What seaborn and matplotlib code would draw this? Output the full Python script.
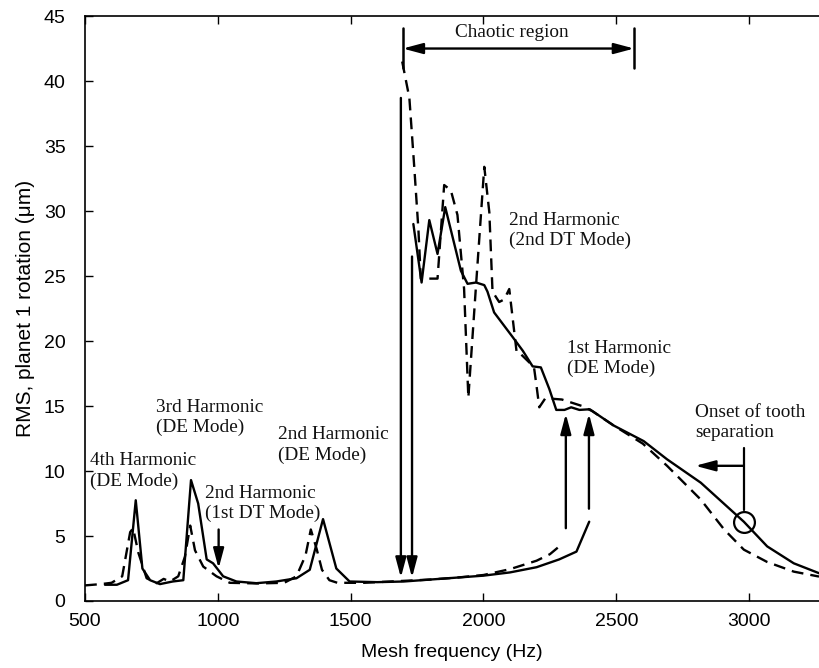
import matplotlib
matplotlib.use("Agg")
import matplotlib.pyplot as plt
import seaborn as sns
import numpy as np

# ---- data ----
freq_up_solid = [575, 620, 662, 691, 716, 745, 782, 830, 870, 899, 926, 958, 982, 1020, 1070,
                 1145, 1220, 1296, 1346, 1396, 1446, 1496, 1600, 1700, 1800, 1900, 2000, 2100,
                 2200, 2285, 2350, 2398]
rms_up_solid = [1.25, 1.25, 1.6, 7.75, 2.5, 1.6, 1.3, 1.5, 1.6, 9.3, 7.5, 3.2, 2.9, 1.9, 1.5,
                1.37, 1.5, 1.75, 2.4, 6.3, 2.5, 1.5, 1.45, 1.5, 1.65, 1.8, 1.95, 2.2,
                2.6, 3.2, 3.8, 6.1]

freq_up_dash = [500, 560, 600, 640, 670, 681, 701, 732, 770, 796, 820, 851, 876, 896, 914, 945,
                995, 1045, 1150, 1250, 1296, 1330, 1350, 1372, 1392, 1420, 1450, 1550, 1650,
                1700, 1800, 1900, 2000, 2100, 2200, 2250, 2300]
rms_up_dash = [1.2, 1.3, 1.4, 1.9, 5.3, 5.6, 3.7, 1.75, 1.37, 1.7, 1.5, 1.9, 3.4, 5.8, 3.9, 2.65,
               1.9, 1.4, 1.35, 1.4, 1.9, 3.5, 5.5, 4.0, 2.4, 1.6, 1.4, 1.4, 1.5,
               1.55, 1.65, 1.8, 2.0, 2.45, 3.1, 3.6, 4.45]

freq_dn_solid = [1736, 1767, 1796, 1827, 1856, 1915, 1940, 1972, 2003, 2015, 2040, 2110, 2148,
                 2185, 2216, 2248, 2274, 2305, 2330, 2361, 2400, 2490, 2603, 2691, 2818, 2980,
                 3068, 3168, 3263]
rms_dn_solid = [29.0, 24.5, 29.3, 26.7, 30.3, 25.4, 24.4, 24.5, 24.3, 23.8, 22.2, 20.3, 19.25,
                18.05, 17.97, 16.3, 14.7, 14.7, 14.9, 14.7, 14.75, 13.5, 12.3, 10.9, 9.1, 6.1,
                4.2, 2.9, 2.14]

freq_dn_dash = [1694, 1721, 1739, 1755, 1764, 1827, 1852, 1877, 1902, 1927, 1943, 1972, 2003,
                2022, 2034, 2059, 2078, 2097, 2125, 2140, 2190, 2200, 2210, 2233, 2295, 2371,
                2410, 2490, 2600, 2691, 2818, 2906, 2980, 3068, 3168, 3263]
rms_dn_dash = [41.5, 38.7, 33.5, 28.6, 24.8, 24.8, 32.0, 31.6, 29.7, 24.0, 15.65, 24.3, 33.4,
               29.9, 23.8, 23.0, 23.2, 24.0, 19.1, 19.0, 18.0, 16.5, 14.9, 15.6, 15.5, 15.0,
               14.6, 13.5, 12.1, 10.4, 7.8, 5.5, 3.95, 3.0, 2.26, 1.88]

x_ticks = [500, 1000, 1500, 2000, 2500, 3000]
y_ticks = [0, 5, 10, 15, 20, 25, 30, 35, 40, 45]

# ---- style ----
sns.set_theme(style="ticks")
plt.rcParams['font.family'] = ['Liberation Sans', 'DejaVu Sans']

fig = plt.figure(figsize=(8.19, 6.68), dpi=100)
ax = fig.add_axes([0.1038, 0.1003, 0.8962, 0.8757])

lw = 1.7
dash = (5, 3)
sns.lineplot(x=freq_up_solid, y=rms_up_solid, ax=ax, color='black', lw=lw, sort=False,
             estimator=None)
sns.lineplot(x=freq_dn_solid, y=rms_dn_solid, ax=ax, color='black', lw=lw, sort=False,
             estimator=None)
sns.lineplot(x=freq_up_dash, y=rms_up_dash, ax=ax, color='black', lw=lw, sort=False,
             estimator=None)
ax.lines[-1].set_dashes(dash)
sns.lineplot(x=freq_dn_dash, y=rms_dn_dash, ax=ax, color='black', lw=lw, sort=False,
             estimator=None)
ax.lines[-1].set_dashes(dash)

ax.set_xlim(500, 3263)
ax.set_ylim(0, 45)
ax.set_xticks(x_ticks)
ax.set_yticks(y_ticks)
ax.tick_params(axis='both', direction='in', length=6, width=1, labelsize=14, colors='black')
ax.tick_params(axis='x', top=True, pad=9)
ax.tick_params(axis='y', pad=14)
for s in ['left', 'bottom', 'top']:
    ax.spines[s].set_color('black')
    ax.spines[s].set_linewidth(1.2)
ax.spines['right'].set_visible(False)

ax.set_xlabel('Mesh frequency (Hz)', fontsize=14, color='black', labelpad=10)
ax.set_ylabel('RMS, planet 1 rotation (μm)', fontsize=15, color='black', labelpad=6)

# ---- annotations ----
serif = dict(family=['Liberation Serif', 'DejaVu Serif'], fontsize=13.9, color='#111111',
             linespacing=1.22)
ax.text(519, 10.0, '4th Harmonic\n(DE Mode)', ha='left', va='center', **serif)
ax.text(767, 14.1, '3rd Harmonic\n(DE Mode)', ha='left', va='center', **serif)
ax.text(952, 7.5, '2nd Harmonic\n(1st DT Mode)', ha='left', va='center', **serif)
ax.text(1227, 12.0, '2nd Harmonic\n(DE Mode)', ha='left', va='center', **serif)
ax.text(2096, 28.5, '2nd Harmonic\n(2nd DT Mode)', ha='left', va='center', **serif)
ax.text(2315, 18.65, '1st Harmonic\n(DE Mode)', ha='left', va='center', **serif)
ax.text(2797, 13.7, 'Onset of tooth\nseparation', ha='left', va='center', **serif)
ax.text(2105, 43.7, 'Chaotic region', ha='center', va='center', **serif)

ap = dict(arrowstyle='-|>,head_length=1.2,head_width=0.32', color='black', lw=1.7,
          shrinkA=0, shrinkB=0, mutation_scale=10)
# 1st DT mode marker
ax.annotate('', xy=(1003, 2.5), xytext=(1003, 5.5), arrowprops=ap)
# jump-down arrows
ax.annotate('', xy=(1689, 1.8), xytext=(1689, 38.7), arrowprops=ap)
ax.annotate('', xy=(1731, 1.8), xytext=(1731, 26.5), arrowprops=ap)
# jump-up arrows
ax.annotate('', xy=(2310, 14.4), xytext=(2310, 5.6), arrowprops=ap)
ax.annotate('', xy=(2397, 14.4), xytext=(2397, 7.1), arrowprops=ap)
# chaotic region double arrow
ap2 = dict(ap)
ap2['arrowstyle'] = '<|-|>,head_length=1.2,head_width=0.32'
ax.annotate('', xy=(2567, 42.5), xytext=(1696, 42.5), arrowprops=ap2)
ax.plot([1696, 1696], [41.0, 44.1], color='black', lw=1.8)
ax.plot([2567, 2567], [41.0, 44.1], color='black', lw=1.8)
# onset of tooth separation
ax.plot([2980], [6.1], marker='o', ms=15, mfc='none', mec='black', mew=1.6)
ax.plot([2980, 2980], [7.0, 11.8], color='black', lw=1.6)
ax.annotate('', xy=(2797, 10.4), xytext=(2980, 10.4), arrowprops=ap)

fig.savefig('out.png', dpi=100)
